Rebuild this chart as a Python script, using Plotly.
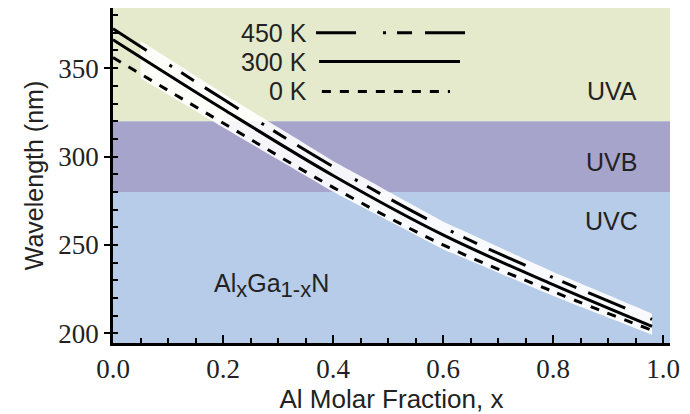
import numpy as np
import plotly.graph_objects as go

# Al molar fraction and emission wavelength (nm) at three temperatures
x_frac = [0.0, 0.2, 0.4, 0.6, 0.8, 0.98]
wl_450K = [372.3, 332.5, 294.3, 260.1, 231.6, 208.0]
wl_300K = [366.1, 326.9, 289.3, 255.7, 227.6, 204.0]
wl_0K = [356.0, 319.0, 282.6, 250.1, 223.7, 201.8]

# UV band limits (nm)
uvc_uvb = 280
uvb_uva = 320

X_RANGE = [0, 1.0127]
Y_RANGE = [194.6, 384.0]

C_UVA = "#e5eacc"
C_UVB = "#a7a4cc"
C_UVC = "#b7cce8"

DASH_450 = "40px,27px,3px,11px,15px,13px"
DASH_0 = "9px,9px"
LW = 3

fig = go.Figure()

# background bands
bands = [(Y_RANGE[0], uvc_uvb, C_UVC), (uvc_uvb, uvb_uva, C_UVB), (uvb_uva, Y_RANGE[1], C_UVA)]
for y0, y1, col in bands:
    fig.add_shape(type="rect", xref="paper", yref="y", x0=0, x1=1, y0=y0, y1=y1,
                  fillcolor=col, line_width=0, layer="below")

# pale halo around the three curves
xs = np.linspace(0.05, x_frac[-1], 60)
upper = np.interp(xs, x_frac, wl_450K) + 3.2
lower = np.interp(xs, x_frac, wl_0K) - 2.5
fig.add_trace(go.Scatter(x=xs, y=upper, mode="lines", line=dict(width=0, color="white"),
                         line_shape="spline", hoverinfo="skip", showlegend=False))
fig.add_trace(go.Scatter(x=xs, y=lower, mode="lines", line=dict(width=0, color="white"),
                         line_shape="spline", fill="tonexty", fillcolor="rgba(255,255,255,0.9)",
                         hoverinfo="skip", showlegend=False))

for name, wl, dash in [("450 K", wl_450K, DASH_450), ("300 K", wl_300K, "solid"), ("0 K", wl_0K, DASH_0)]:
    fig.add_trace(go.Scatter(x=x_frac, y=wl, mode="lines", name=name,
                             line=dict(color="black", width=LW, dash=dash, shape="spline", smoothing=1.0)))

sans = "Liberation Sans"
serif = "Liberation Serif"

# hand-made key: label on the left, line sample on the right
key = [("450 K", 0.926, 0.3645, 0.6355, DASH_450),
       ("300 K", 0.840, 0.370, 0.623, "solid"),
       ("0 K", 0.751, 0.375, 0.605, DASH_0)]
for label, yp, xa, xb, dash in key:
    fig.add_annotation(text=label, xref="paper", yref="paper", x=0.352, y=yp,
                       xanchor="right", yanchor="middle", showarrow=False,
                       font=dict(family=sans, size=25, color="#222"))
    fig.add_shape(type="line", xref="paper", yref="paper", x0=xa, x1=xb, y0=yp, y1=yp,
                  line=dict(color="black", width=LW, dash=dash))

for txt, yv in [("UVA", 337), ("UVB", 297), ("UVC", 263.5)]:
    fig.add_annotation(text=txt, x=0.907, y=yv, xref="x", yref="y", showarrow=False,
                       font=dict(family=sans, size=25, color="#222"))

sub = "<sub><span style='font-size:22px'>{}</span></sub>"
fig.add_annotation(text="Al" + sub.format("x") + "Ga" + sub.format("1-x") + "N",
                   x=0.18, y=227, xref="x", yref="y",
                   xanchor="left", yanchor="middle", showarrow=False,
                   font=dict(family=sans, size=25, color="#222"))

fig.update_layout(
    width=690, height=414,
    margin=dict(l=113, r=20, t=8, b=68),
    paper_bgcolor="white", plot_bgcolor=C_UVC,
    showlegend=False,
)
fig.update_xaxes(
    range=X_RANGE, showgrid=False, zeroline=False,
    showline=True, linecolor="black", linewidth=2.5,
    ticks="inside", ticklen=8, tickwidth=2, tickcolor="black",
    tickvals=[0, 0.2, 0.4, 0.6, 0.8, 1.0], ticktext=["0.0", "0.2", "0.4", "0.6", "0.8", "1.0"],
    tickfont=dict(family=serif, size=27, color="#222"),
    minor=dict(dtick=0.05, tick0=0, ticks="inside", ticklen=5, tickwidth=1.5, tickcolor="black"),
    title=dict(text="Al Molar Fraction, x", font=dict(family=sans, size=26, color="#222"), standoff=4),
)
fig.update_yaxes(
    range=Y_RANGE, showgrid=False, zeroline=False,
    showline=True, linecolor="black", linewidth=2.5,
    ticks="outside", ticklen=6, tickwidth=2, tickcolor="black",
    tickvals=[200, 250, 300, 350], ticktext=["200", "250", "300", "350"],
    tickfont=dict(family=serif, size=27, color="#222"),
    minor=dict(dtick=10, tick0=200, ticks="inside", ticklen=5, tickwidth=1.5, tickcolor="black"),
    title=dict(text="Wavelength (nm)", font=dict(family=sans, size=25, color="#222"), standoff=8),
)

fig.write_html("out.html")
